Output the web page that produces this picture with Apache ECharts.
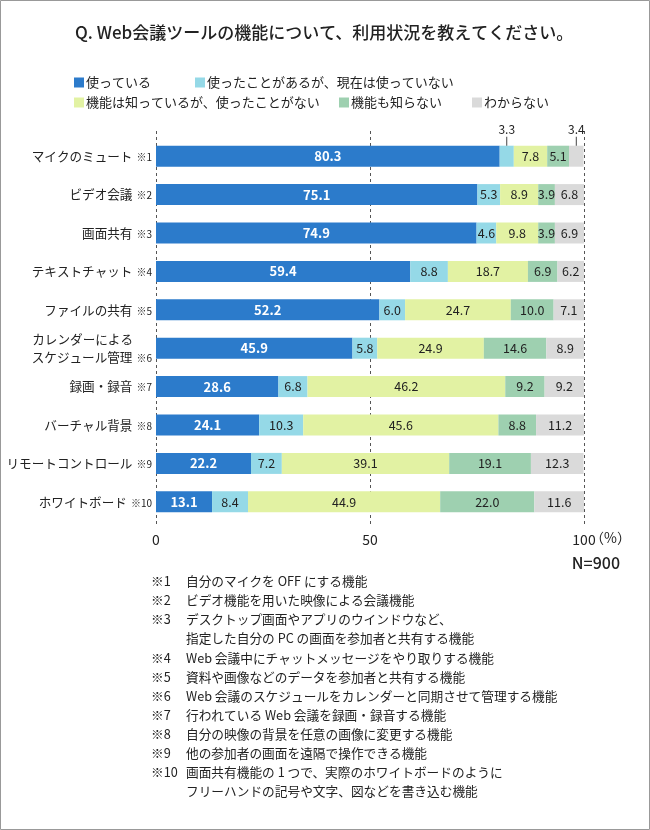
<!DOCTYPE html>
<html><head><meta charset="utf-8">
<script src="https://cdn.jsdelivr.net/npm/echarts@6/dist/echarts.min.js"></script>
<style>html,body{margin:0;padding:0;background:#fff}#c{width:650px;height:830px}</style>
</head><body><div id="c"></div>
<script>
const categories = ['マイクのミュート','ビデオ会議','画面共有','テキストチャット','ファイルの共有','カレンダーによる\nスケジュール管理','録画・録音','バーチャル背景','リモートコントロール','ホワイトボード'];
const notes = ['※1','※2','※3','※4','※5','※6','※7','※8','※9','※10'];
const seriesNames = ['使っている','使ったことがあるが、現在は使っていない','機能は知っているが、使ったことがない','機能も知らない','わからない'];
const used = [80.3,75.1,74.9,59.4,52.2,45.9,28.6,24.1,22.2,13.1];
const usedBefore = [3.3,5.3,4.6,8.8,6.0,5.8,6.8,10.3,7.2,8.4];
const knowNotUsed = [7.8,8.9,9.8,18.7,24.7,24.9,46.2,45.6,39.1,44.9];
const dontKnowFeature = [5.1,3.9,3.9,6.9,10.0,14.6,9.2,8.8,19.1,22.0];
const unknown = [3.4,6.8,6.9,6.2,7.1,8.9,9.2,11.2,12.3,11.6];
const xTicks = [0,50,100];
const footnotes = [
 ['※1','自分のマイクを OFF にする機能'],
 ['※2','ビデオ機能を用いた映像による会議機能'],
 ['※3','デスクトップ画面やアプリのウインドウなど、'],
 ['','指定した自分の PC の画面を参加者と共有する機能'],
 ['※4','Web 会議中にチャットメッセージをやり取りする機能'],
 ['※5','資料や画像などのデータを参加者と共有する機能'],
 ['※6','Web 会議のスケジュールをカレンダーと同期させて管理する機能'],
 ['※7','行われている Web 会議を録画・録音する機能'],
 ['※8','自分の映像の背景を任意の画像に変更する機能'],
 ['※9','他の参加者の画面を遠隔で操作できる機能'],
 ['※10','画面共有機能の 1 つで、実際のホワイトボードのように'],
 ['','フリーハンドの記号や文字、図などを書き込む機能']
];
const outsideLabels = {1:[0], 4:[0]};

const FONT = '"Noto Sans CJK JP", "Noto Sans", sans-serif';
const colors = ['#2C7BCB','#95D9E7','#E2F2A3','#9ED0B0','#DADADA'];
const allSeries = [used, usedBefore, knowNotUsed, dontKnowFeature, unknown];

const chart = echarts.init(document.getElementById('c'), null, {renderer:'canvas'});

const series = allSeries.map((vals, si) => ({
  name: seriesNames[si],
  type: 'bar',
  stack: 'total',
  barWidth: 21,
  xAxisIndex: 0, yAxisIndex: 0,
  itemStyle: {color: colors[si]},
  label: {
    show: true,
    position: 'inside',
    fontFamily: FONT,
    fontSize: si === 0 ? 13 : 12.5,
    fontWeight: si === 0 ? 'bold' : 'normal',
    color: si === 0 ? '#fff' : '#222',
    formatter: p => p.value.toFixed(1)
  },
  data: vals.map((v, i) => {
    if (outsideLabels[si] && outsideLabels[si].includes(i)) {
      return {
        value: v,
        label: {
          position: 'top', distance: 0,
          formatter: p => '{v|' + p.value.toFixed(1) + '}\n{l|}',
          rich: {
            v: {fontFamily: FONT, fontSize: 12, color: '#222', lineHeight: 14, align: 'center'},
            l: {width: 1, height: 9, backgroundColor: '#444', align: 'center'}
          }
        }
      };
    }
    return v;
  })
}));

const legends = [
  {left: 74, top: 76}, {left: 195, top: 76},
  {left: 74, top: 96}, {left: 339, top: 96}, {left: 472, top: 96}
].map((pos, i) => ({
  left: pos.left, top: pos.top, padding: 0,
  data: [seriesNames[i]],
  icon: 'rect', itemWidth: 10, itemHeight: 10, itemGap: 0,
  selectedMode: false,
  textStyle: {fontFamily: FONT, fontSize: 13, color: '#222', padding: [0,0,0,-3]}
}));

const graphics = [
  {type: 'rect', shape: {x: 0.5, y: 0.5, width: 649, height: 829}, style: {fill: 'none', stroke: '#999', lineWidth: 1}, silent: true},
  {type: 'text', left: 590, top: 531, style: {text: '（%）', font: '14px ' + FONT, fill: '#222'}},
  {type: 'text', right: 30, top: 555, style: {text: 'N=900', font: '500 16px ' + FONT, fill: '#222'}}
];
footnotes.forEach((f, i) => {
  const y = 575 + i * 19.1;
  if (f[0]) graphics.push({type: 'text', left: 151, top: y, style: {text: f[0], font: '12.7px ' + FONT, fill: '#222'}});
  graphics.push({type: 'text', left: 186, top: y, style: {text: f[1], font: '12.7px ' + FONT, fill: '#222'}});
});

const option = {
  backgroundColor: '#fff',
  animation: false,
  title: {
    text: 'Q. Web会議ツールの機能について、利用状況を教えてください。',
    left: 75, top: 24, padding: 0,
    textStyle: {fontFamily: FONT, fontSize: 17, fontWeight: 500, color: '#222'}
  },
  legend: legends,
  grid: [
    {left: 156, right: 66, top: 137, bottom: 309},
    {left: 156, right: 66, top: 131, bottom: 303}
  ],
  xAxis: [
    {
      type: 'value', gridIndex: 0, min: 0, max: 100, interval: 50,
      axisLine: {show: false}, axisTick: {show: false}, splitLine: {show: false},
      axisLabel: {margin: 12, fontFamily: FONT, fontSize: 14, color: '#222',
        formatter: v => xTicks.includes(v) ? String(v) : ''}
    },
    {
      type: 'value', gridIndex: 1, min: 0, max: 100, interval: 50,
      axisLine: {show: false}, axisTick: {show: false}, axisLabel: {show: false},
      splitLine: {show: true, lineStyle: {color: '#555', type: [3, 3], width: 1}}
    }
  ],
  yAxis: [
    {
      type: 'category', gridIndex: 0, inverse: true, data: categories,
      axisLine: {show: false}, axisTick: {show: false},
      axisLabel: {
        margin: 4,
        formatter: (val, idx) => {
          const lines = val.split('\n');
          return lines.map((ln, k) => k === lines.length - 1
            ? '{n|' + ln + '}{s|' + notes[idx] + '}'
            : '{n|' + ln + '}{sp|}').join('\n');
        },
        rich: {
          n: {fontFamily: FONT, fontSize: 12.6, color: '#222', lineHeight: 18},
          s: {fontFamily: FONT, fontSize: 10, color: '#222', padding: [2, 0, 0, 4], lineHeight: 18},
          sp: {width: 19, lineHeight: 18}
        }
      }
    },
    {type: 'value', gridIndex: 1, show: false, min: 0, max: 1}
  ],
  graphic: graphics,
  series: series
};
chart.setOption(option);
</script>
</body></html>
